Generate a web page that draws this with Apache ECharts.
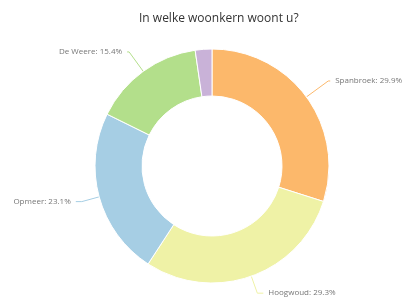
<!DOCTYPE html>
<html><head><meta charset="utf-8">
<script src="https://cdn.jsdelivr.net/npm/echarts@6/dist/echarts.min.js"></script>
<style>html,body{margin:0;padding:0;background:#fff}#c{width:405px;height:299px}</style>
</head><body><div id="c"></div>
<script>
const categories = ['Spanbroek', 'Hoogwoud', 'Opmeer', 'De Weere', 'Anders'];
const values = [29.9, 29.3, 23.1, 15.4, 2.3];
const colors = ['#fcb86b', '#eff2a6', '#a6cee4', '#b3df8b', '#c9b2d8'];
const showLabel = [true, true, true, true, false];
const lineLen = [27, 18, 18, 24, 18];
const lineLen2 = [2, 6, 6, 2, 6];

const chart = echarts.init(document.getElementById('c'));
chart.setOption({
  animation: false,
  title: {
    text: 'In welke woonkern woont u?',
    left: 134, top: 8,
    textStyle: { fontFamily: 'Open Sans', fontSize: 12, fontWeight: 'normal', color: '#333' }
  },
  series: [{
    type: 'pie',
    center: [212, 166],
    radius: [70, 117],
    startAngle: 90,
    clockwise: true,
    avoidLabelOverlap: false,
    itemStyle: { borderColor: '#fff', borderWidth: 1 },
    label: {
      formatter: '{b}: {c}%',
      fontFamily: 'Open Sans', fontSize: 8, color: '#777'
    },
    data: categories.map((n, i) => ({
      name: n, value: values[i],
      itemStyle: { color: colors[i] },
      label: { show: showLabel[i] },
      labelLine: { show: showLabel[i], length: lineLen[i], length2: lineLen2[i], lineStyle: { width: 1 } }
    }))
  }]
});
</script></body></html>
